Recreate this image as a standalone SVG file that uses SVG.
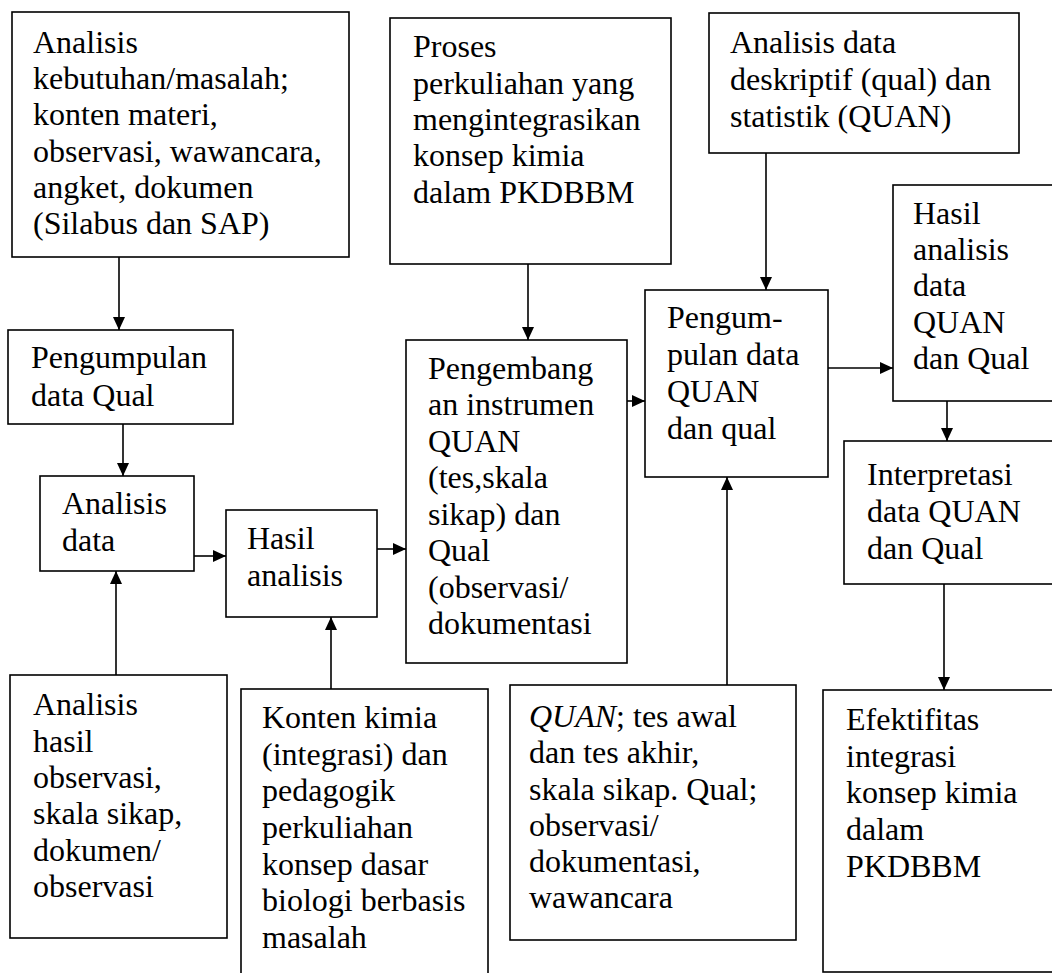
<svg xmlns="http://www.w3.org/2000/svg" width="1052" height="973" viewBox="0 0 1052 973">
<style>
  .box { fill: #fff; stroke: #000; stroke-width: 1.6; }
  .t { font-family: 'Liberation Serif', Tinos, 'Times New Roman', Times, 'DejaVu Serif', serif; font-size: 32px; fill: #000; }
  .c { stroke: #000; stroke-width: 1.6; fill: none; marker-end: url(#ah); }
</style>
<defs>
  <marker id="ah" markerUnits="userSpaceOnUse" markerWidth="14" markerHeight="12" refX="13" refY="6" orient="auto">
    <path d="M0,0 L13,6 L0,12 Z" fill="#000"/>
  </marker>
</defs>
<rect width="1052" height="973" fill="#fff"/>

<g id="connectors">
  <line class="c" x1="119" y1="257" x2="119" y2="330"/>
  <line class="c" x1="123" y1="424" x2="123" y2="476"/>
  <line class="c" x1="116" y1="675" x2="116" y2="571"/>
  <line class="c" x1="194" y1="556" x2="226" y2="556"/>
  <line class="c" x1="331" y1="689" x2="331" y2="617"/>
  <line class="c" x1="377" y1="549" x2="406" y2="549"/>
  <line class="c" x1="528" y1="264" x2="528" y2="340"/>
  <line class="c" x1="623" y1="401" x2="645" y2="401"/>
  <line class="c" x1="766" y1="153" x2="766" y2="290"/>
  <line class="c" x1="727" y1="685" x2="727" y2="477"/>
  <line class="c" x1="828" y1="368" x2="893" y2="368"/>
  <line class="c" x1="947" y1="401" x2="947" y2="441"/>
  <line class="c" x1="944" y1="584" x2="944" y2="690"/>
</g>

<g id="n-analisis-kebutuhan">
  <rect class="box" x="12" y="12" width="337" height="245"/>
  <text class="t" x="33" y="53">Analisis</text>
  <text class="t" x="33" y="89">kebutuhan/masalah;</text>
  <text class="t" x="33" y="125">konten materi,</text>
  <text class="t" x="33" y="162">observasi, wawancara,</text>
  <text class="t" x="33" y="198">angket, dokumen</text>
  <text class="t" x="33" y="234">(Silabus dan SAP)</text>
</g>

<g id="n-proses">
  <rect class="box" x="390" y="18" width="281" height="246"/>
  <text class="t" x="413" y="57">Proses</text>
  <text class="t" x="413" y="94">perkuliahan yang</text>
  <text class="t" x="413" y="130">mengintegrasikan</text>
  <text class="t" x="413" y="166">konsep kimia</text>
  <text class="t" x="413" y="203">dalam PKDBBM</text>
</g>

<g id="n-analisis-deskriptif">
  <rect class="box" x="709" y="13" width="310" height="140"/>
  <text class="t" x="730" y="53">Analisis data</text>
  <text class="t" x="730" y="90">deskriptif (qual) dan</text>
  <text class="t" x="730" y="127">statistik (QUAN)</text>
</g>

<g id="n-hasil-analisis-data">
  <rect class="box" x="893" y="185" width="180" height="216"/>
  <text class="t" x="913" y="224">Hasil</text>
  <text class="t" x="913" y="260">analisis</text>
  <text class="t" x="913" y="296">data</text>
  <text class="t" x="913" y="333">QUAN</text>
  <text class="t" x="913" y="369">dan Qual</text>
</g>

<g id="n-pengumpulan-qual">
  <rect class="box" x="8" y="330" width="225" height="94"/>
  <text class="t" x="31" y="368">Pengumpulan</text>
  <text class="t" x="31" y="406">data Qual</text>
</g>

<g id="n-analisis-data">
  <rect class="box" x="40" y="476" width="154" height="95"/>
  <text class="t" x="62" y="514">Analisis</text>
  <text class="t" x="62" y="551">data</text>
</g>

<g id="n-hasil-analisis">
  <rect class="box" x="226" y="510" width="151" height="107"/>
  <text class="t" x="247" y="549">Hasil</text>
  <text class="t" x="247" y="586">analisis</text>
</g>

<g id="n-pengembangan">
  <rect class="box" x="406" y="340" width="221" height="323"/>
  <text class="t" x="428" y="379">Pengembang</text>
  <text class="t" x="428" y="415">an instrumen</text>
  <text class="t" x="428" y="452">QUAN</text>
  <text class="t" x="428" y="488">(tes,skala</text>
  <text class="t" x="428" y="525">sikap) dan</text>
  <text class="t" x="428" y="561">Qual</text>
  <text class="t" x="428" y="598">(observasi/</text>
  <text class="t" x="428" y="634">dokumentasi</text>
</g>

<g id="n-pengumpulan-quan">
  <rect class="box" x="645" y="290" width="183" height="187"/>
  <text class="t" x="667" y="328">Pengum-</text>
  <text class="t" x="667" y="365">pulan data</text>
  <text class="t" x="667" y="402">QUAN</text>
  <text class="t" x="667" y="439">dan qual</text>
</g>

<g id="n-interpretasi">
  <rect class="box" x="844" y="441" width="220" height="143"/>
  <text class="t" x="867" y="485">Interpretasi</text>
  <text class="t" x="867" y="522">data QUAN</text>
  <text class="t" x="867" y="559">dan Qual</text>
</g>

<g id="n-analisis-hasil">
  <rect class="box" x="10" y="675" width="217" height="263"/>
  <text class="t" x="33" y="715">Analisis</text>
  <text class="t" x="33" y="752">hasil</text>
  <text class="t" x="33" y="788">observasi,</text>
  <text class="t" x="33" y="824">skala sikap,</text>
  <text class="t" x="33" y="861">dokumen/</text>
  <text class="t" x="33" y="897">observasi</text>
</g>

<g id="n-konten-kimia">
  <rect class="box" x="241" y="689" width="247" height="300"/>
  <text class="t" x="262" y="728">Konten kimia</text>
  <text class="t" x="262" y="765">(integrasi) dan</text>
  <text class="t" x="262" y="801">pedagogik</text>
  <text class="t" x="262" y="838">perkuliahan</text>
  <text class="t" x="262" y="875">konsep dasar</text>
  <text class="t" x="262" y="911">biologi berbasis</text>
  <text class="t" x="262" y="948">masalah</text>
</g>

<g id="n-quan-tes">
  <rect class="box" x="510" y="685" width="286" height="255"/>
  <text class="t" x="529" y="727"><tspan font-style="italic">QUAN</tspan>; tes awal</text>
  <text class="t" x="529" y="763">dan tes akhir,</text>
  <text class="t" x="529" y="800">skala sikap. Qual;</text>
  <text class="t" x="529" y="836">observasi/</text>
  <text class="t" x="529" y="872">dokumentasi,</text>
  <text class="t" x="529" y="908">wawancara</text>
</g>

<g id="n-efektifitas">
  <rect class="box" x="823" y="690" width="240" height="282"/>
  <text class="t" x="846" y="730">Efektifitas</text>
  <text class="t" x="846" y="767">integrasi</text>
  <text class="t" x="846" y="803">konsep kimia</text>
  <text class="t" x="846" y="840">dalam</text>
  <text class="t" x="846" y="877">PKDBBM</text>
</g>
</svg>
